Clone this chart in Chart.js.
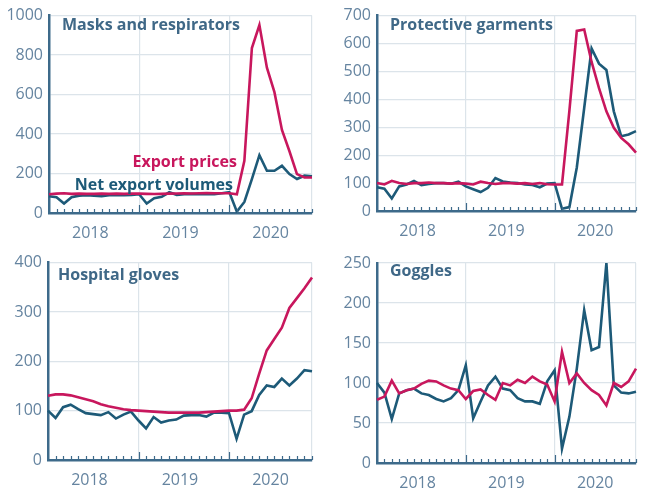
<!DOCTYPE html>
<html>
<head>
<meta charset="utf-8">
<script src="https://cdn.jsdelivr.net/npm/chart.js@4/dist/chart.umd.min.js"></script>
<style>
  html, body { margin: 0; padding: 0; background: #fff; }
  #wrap { position: relative; width: 647px; height: 495px; overflow: hidden; }
  #wrap canvas { position: absolute; }
</style>
</head>
<body>
<div id="wrap">
  <canvas id="masks" width="323" height="247" style="left:0;top:0"></canvas>
  <canvas id="garments" width="324" height="247" style="left:323px;top:0"></canvas>
  <canvas id="gloves" width="323" height="248" style="left:0;top:247px"></canvas>
  <canvas id="goggles" width="324" height="248" style="left:323px;top:247px"></canvas>
</div>
<script>
// monthly index values, Jan 2018 - Dec 2020
const months = [
  'Jan 2018', 'Feb 2018', 'Mar 2018', 'Apr 2018', 'May 2018', 'Jun 2018',
  'Jul 2018', 'Aug 2018', 'Sep 2018', 'Oct 2018', 'Nov 2018', 'Dec 2018',
  'Jan 2019', 'Feb 2019', 'Mar 2019', 'Apr 2019', 'May 2019', 'Jun 2019',
  'Jul 2019', 'Aug 2019', 'Sep 2019', 'Oct 2019', 'Nov 2019', 'Dec 2019',
  'Jan 2020', 'Feb 2020', 'Mar 2020', 'Apr 2020', 'May 2020', 'Jun 2020',
  'Jul 2020', 'Aug 2020', 'Sep 2020', 'Oct 2020', 'Nov 2020', 'Dec 2020'
];
const yearTickIndex = [6, 18, 30];
const yearTickText = ['2018', '2019', '2020'];

const masksPrices = [95, 98, 100, 97, 98, 97, 97, 98, 97, 98, 97, 98,
  98, 97, 96, 97, 98, 99, 100, 99, 100, 101, 100, 100,
  100, 95, 264, 836, 952, 736, 612, 421, 313, 197, 180, 180];
const masksVolumes = [85, 80, 48, 80, 88, 90, 88, 85, 90, 92, 90, 92,
  95, 48, 75, 82, 105, 92, 95, 97, 95, 95, 95, 100,
  105, 7, 56, 172, 293, 214, 214, 239, 197, 172, 189, 186];

const garmentsPrices = [100, 95, 108, 100, 97, 100, 100, 102, 100, 100, 98, 100,
  98, 95, 105, 100, 97, 100, 100, 98, 100, 97, 100, 96,
  95, 95, 360, 645, 650, 534, 440, 357, 298, 262, 239, 209];
const garmentsVolumes = [85, 80, 45, 88, 95, 108, 93, 97, 100, 100, 98, 105,
  88, 78, 68, 83, 118, 106, 102, 100, 95, 93, 85, 98,
  100, 8, 14, 156, 369, 582, 528, 505, 357, 268, 274, 286];

const glovesPrices = [130, 133, 133, 131, 127, 123, 119, 113, 109, 106, 103, 101,
  100, 99, 98, 97, 96, 96, 96, 96, 96, 97, 98, 99,
  100, 100, 102, 125, 175, 222, 245, 268, 308, 328, 348, 370];
const glovesVolumes = [100, 85, 107, 112, 103, 95, 93, 91, 97, 84, 92, 98,
  80, 64, 87, 76, 80, 82, 90, 91, 91, 88, 96, 96,
  95, 43, 92, 99, 132, 151, 148, 165, 151, 165, 182, 180];

const gogglesPrices = [79, 83, 103, 87, 91, 93, 99, 103, 102, 97, 93, 91,
  80, 90, 92, 85, 79, 100, 97, 104, 100, 108, 102, 98,
  77, 139, 100, 112, 100, 91, 85, 72, 100, 95, 102, 118];
const gogglesVolumes = [100, 88, 55, 87, 91, 93, 87, 85, 80, 77, 81, 91,
  122, 56, 77, 97, 108, 93, 91, 81, 77, 77, 74, 102,
  116, 18, 58, 118, 191, 141, 145, 250, 97, 88, 87, 89];

const RED = '#c8175d';
const TEAL = '#1d5a78';
const AXIS = '#3d6a8a';
const TICK = '#6584a0';
const GRID = '#dce4ea';
const FONT = "'Open Sans', sans-serif";

// small month ticks pointing up from the x axis, plus free text in the plot
const panelDecor = {
  id: 'panelDecor',
  afterDraw(chart, args, opts) {
    const ctx = chart.ctx;
    const xs = chart.scales.x;
    const area = chart.chartArea;
    ctx.save();
    ctx.strokeStyle = AXIS;
    ctx.lineWidth = 1.2;
    for (let i = 1; i < months.length; i++) {
      const x = Math.round(xs.getPixelForValue(i)) + 0.5;
      const len = (i % 12 === 0) ? 8 : 4;
      ctx.beginPath();
      ctx.moveTo(x, area.bottom);
      ctx.lineTo(x, area.bottom - len);
      ctx.stroke();
    }
    ctx.textBaseline = 'middle';
    (opts.texts || []).forEach(t => {
      ctx.font = 'bold 16px ' + FONT;
      ctx.fillStyle = t.color;
      ctx.textAlign = t.align || 'left';
      ctx.fillText(t.text, area.left + t.x, area.top + t.y);
    });
    ctx.restore();
  }
};

function makePanel(id, prices, volumes, yMax, yStep, box, texts) {
  const el = document.getElementById(id);
  return new Chart(el.getContext('2d'), {
    type: 'line',
    data: {
      labels: months,
      datasets: [
        { label: 'Export prices', data: prices, borderColor: RED, borderWidth: 2.6,
          pointRadius: 0, tension: 0, fill: false },
        { label: 'Net export volumes', data: volumes, borderColor: TEAL, borderWidth: 2.6,
          pointRadius: 0, tension: 0, fill: false }
      ]
    },
    options: {
      responsive: false,
      animation: false,
      layout: { padding: { top: box.top, right: box.right, left: 0, bottom: 0 } },
      plugins: {
        legend: { display: false },
        tooltip: { enabled: false },
        panelDecor: { texts: texts }
      },
      scales: {
        x: {
          grid: {
            color: c => [12, 24, 35].includes(c.index) ? GRID : 'rgba(0,0,0,0)',
            lineWidth: 1.2,
            drawTicks: false
          },
          border: { display: true, color: AXIS, width: 2.5 },
          ticks: {
            autoSkip: false,
            maxRotation: 0,
            padding: 11,
            labelOffset: -3.8,
            color: TICK,
            font: { family: FONT, size: 16 },
            callback: (v, i) => {
              const k = yearTickIndex.indexOf(i);
              return k >= 0 ? yearTickText[k] : '';
            }
          },
          afterFit: s => { s.height = box.xh; }
        },
        y: {
          min: 0,
          max: yMax,
          grid: { color: GRID, lineWidth: 1.2, drawTicks: false },
          border: { display: true, color: AXIS, width: 2.5 },
          ticks: {
            stepSize: yStep,
            padding: 6,
            color: TICK,
            font: { family: FONT, size: 16 },
            callback: v => String(v)
          },
          afterFit: s => { s.width = box.yw; }
        }
      }
    },
    plugins: [panelDecor]
  });
}

makePanel('masks', masksPrices, masksVolumes, 1000, 200,
  { top: 12, right: 7, yw: 49, xh: 34 },
  [
    { text: 'Masks and respirators', x: 13, y: 10, color: '#3f6887' },
    { text: 'Export prices', x: 188, y: 147, color: RED, align: 'right' },
    { text: 'Net export volumes', x: 184, y: 170, color: TEAL, align: 'right' }
  ]);
makePanel('garments', garmentsPrices, garmentsVolumes, 700, 100,
  { top: 13, right: 5, yw: 54, xh: 36 },
  [{ text: 'Protective garments', x: 13, y: 10, color: '#3f6887' }]);
makePanel('gloves', glovesPrices, glovesVolumes, 400, 100,
  { top: 12, right: 7, yw: 48, xh: 35 },
  [{ text: 'Hospital gloves', x: 10, y: 13, color: '#3f6887' }]);
makePanel('goggles', gogglesPrices, gogglesVolumes, 250, 50,
  { top: 16, right: 5, yw: 54, xh: 32 },
  [{ text: 'Goggles', x: 13, y: 8, color: '#3f6887' }]);
</script>
</body>
</html>
